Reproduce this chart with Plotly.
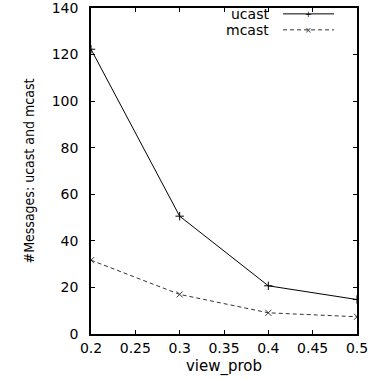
import plotly.graph_objects as go

view_prob = [0.2, 0.3, 0.4, 0.5]
ucast = [122.3, 50.6, 20.7, 14.8]
mcast = [31.7, 17.0, 9.1, 7.4]
x_ticks = [0.2, 0.25, 0.3, 0.35, 0.4, 0.45, 0.5]
y_ticks = [0, 20, 40, 60, 80, 100, 120, 140]

FONT = "DejaVu Sans"

fig = go.Figure()
fig.add_trace(go.Scatter(
    x=view_prob, y=ucast, mode="lines+markers", name="ucast",
    line=dict(color="black", width=1),
    marker=dict(symbol="cross-thin", size=6, line=dict(color="black", width=1)),
    showlegend=False))
fig.add_trace(go.Scatter(
    x=view_prob, y=mcast, mode="lines+markers", name="mcast",
    line=dict(color="#333333", width=1, dash="4px,3px"),
    marker=dict(symbol="x-thin", size=6, line=dict(color="#333333", width=1)),
    showlegend=False))

# custom gnuplot-style legend (top right, text right-aligned, sample to the right)
legend_items = [("ucast", 0.982, "black", "solid", "+"),
                ("mcast", 0.933, "#333333", "4px,3px", "×")]
for name, yp, col, dash, sym in legend_items:
    fig.add_annotation(x=0.677, y=yp, xref="paper", yref="paper", text=name,
                       showarrow=False, xanchor="right", yanchor="middle",
                       font=dict(family=FONT, size=14, color="black"))
    fig.add_shape(type="line", xref="paper", yref="paper",
                  x0=0.722, x1=0.914, y0=yp, y1=yp,
                  line=dict(color=col, width=1, dash=dash))
    fig.add_annotation(x=0.818, y=yp, xref="paper", yref="paper", text=sym,
                       showarrow=False, xanchor="center", yanchor="middle", height=10,
                       font=dict(family=FONT, size=8, color=col))

fig.update_xaxes(
    range=[0.2, 0.5], tickvals=x_ticks, ticktext=[f"{v:g}" for v in x_ticks],
    ticks="inside", ticklen=4, tickcolor="black", mirror="ticks",
    showline=True, linecolor="black", linewidth=1.5, showgrid=False, zeroline=False,
    tickfont=dict(family=FONT, size=14, color="black"), ticklabeloverflow="allow",
    title=dict(text="view_prob", font=dict(family=FONT, size=15, color="black"), standoff=6))
fig.update_yaxes(
    range=[0, 140], tickvals=y_ticks,
    ticks="inside", ticklen=4, tickcolor="black", mirror="ticks",
    showline=True, linecolor="black", linewidth=1.5, showgrid=False, zeroline=False,
    tickfont=dict(family=FONT, size=14, color="black"), ticklabelstandoff=8,
    ticklabeloverflow="allow",
    title=dict(text="#Messages: ucast and mcast",
               font=dict(family="Liberation Sans Narrow, DejaVu Sans Condensed, Liberation Sans",
                         size=14, color="black"),
               standoff=14))

fig.update_layout(
    width=381, height=379,
    margin=dict(l=91, r=24, t=8, b=45, autoexpand=False),
    plot_bgcolor="white", paper_bgcolor="white",
)
fig.write_html("out.html", config={"displayModeBar": False},
               post_script="document.body.style.margin='0';document.body.style.overflow='hidden';")
